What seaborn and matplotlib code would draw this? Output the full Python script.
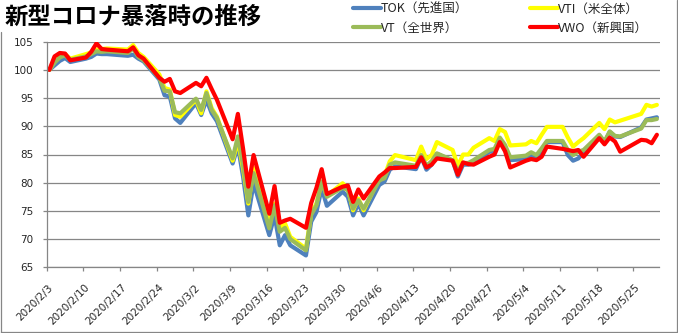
import matplotlib
matplotlib.use("Agg")
import matplotlib.pyplot as plt
import matplotlib.transforms as mtransforms
from matplotlib.lines import Line2D
import pandas as pd
import seaborn as sns

# Trading days (US market), Feb 3 - May 29, 2020
dates = [
    "2020-02-03", "2020-02-04", "2020-02-05", "2020-02-06", "2020-02-07",
    "2020-02-10", "2020-02-11", "2020-02-12", "2020-02-13", "2020-02-14",
    "2020-02-18", "2020-02-19", "2020-02-20", "2020-02-21",
    "2020-02-24", "2020-02-25", "2020-02-26", "2020-02-27", "2020-02-28",
    "2020-03-02", "2020-03-03", "2020-03-04", "2020-03-05", "2020-03-06",
    "2020-03-09", "2020-03-10", "2020-03-11", "2020-03-12", "2020-03-13",
    "2020-03-16", "2020-03-17", "2020-03-18", "2020-03-19", "2020-03-20",
    "2020-03-23", "2020-03-24", "2020-03-25", "2020-03-26", "2020-03-27",
    "2020-03-30", "2020-03-31", "2020-04-01", "2020-04-02", "2020-04-03",
    "2020-04-06", "2020-04-07", "2020-04-08", "2020-04-09",
    "2020-04-13", "2020-04-14", "2020-04-15", "2020-04-16", "2020-04-17",
    "2020-04-20", "2020-04-21", "2020-04-22", "2020-04-23", "2020-04-24",
    "2020-04-27", "2020-04-28", "2020-04-29", "2020-04-30", "2020-05-01",
    "2020-05-04", "2020-05-05", "2020-05-06", "2020-05-07", "2020-05-08",
    "2020-05-11", "2020-05-12", "2020-05-13", "2020-05-14", "2020-05-15",
    "2020-05-18", "2020-05-19", "2020-05-20", "2020-05-21", "2020-05-22",
    "2020-05-26", "2020-05-27", "2020-05-28", "2020-05-29",
]

# Index values (2020/2/3 = 100)
tok = [
    100.0, 100.8, 101.6, 102.1, 101.4,
    102.0, 102.3, 102.9, 102.8, 102.8,
    102.5, 102.7, 102.0, 101.5,
    98.3, 95.5, 95.3, 91.4, 90.6,
    94.1, 92.0, 94.7, 92.3, 90.9,
    83.4, 86.5, 81.0, 74.2, 79.9,
    70.7, 74.2, 68.9, 70.7, 68.9,
    67.1, 73.1, 74.8, 79.0, 75.9,
    78.4, 77.5, 74.2, 76.3, 74.2,
    79.6, 80.2, 82.3, 82.9,
    82.4, 84.6, 82.3, 83.2, 85.1,
    83.9, 81.1, 83.2, 83.2, 83.4,
    85.5, 85.5, 87.6, 86.1, 84.0,
    84.2, 84.8, 84.4, 85.8, 87.2,
    87.2, 84.9, 83.9, 84.3, 85.4,
    88.4, 87.2, 89.0, 88.2, 88.1,
    89.8, 91.2, 91.4, 91.6,
]
vti = [
    100.0, 101.5, 102.4, 102.8, 102.0,
    102.8, 103.1, 103.6, 103.7, 103.8,
    103.6, 104.4, 103.0, 102.3,
    99.2, 96.8, 96.5, 92.0, 91.7,
    94.7, 92.3, 96.2, 93.2, 91.7,
    83.9, 87.4, 82.5, 76.3, 82.6,
    73.1, 76.3, 71.9, 72.8, 70.4,
    68.3, 74.6, 76.3, 80.2, 77.7,
    79.9, 79.0, 75.1, 77.2, 75.1,
    80.8, 81.2, 83.8, 84.9,
    84.0, 86.4, 84.2, 84.9, 87.2,
    85.8, 83.0, 85.0, 85.0, 86.2,
    87.9, 87.4, 89.5, 89.0, 86.6,
    86.8, 87.4, 87.0, 88.5, 89.9,
    89.9, 88.0, 86.4, 87.2, 87.9,
    90.6, 89.5, 91.2, 90.7, 91.0,
    92.2, 93.8, 93.5, 93.8,
]
vt = [
    100.0, 101.3, 102.2, 102.6, 101.8,
    102.4, 102.8, 103.3, 103.2, 103.3,
    103.0, 103.8, 102.3, 101.7,
    98.6, 96.3, 96.2, 92.5, 92.3,
    94.9, 92.9, 95.9, 92.9, 91.5,
    84.3, 88.2, 83.0, 76.6, 81.7,
    71.9, 76.0, 71.3, 72.0, 70.0,
    68.0, 74.3, 76.0, 80.2, 77.5,
    79.1, 78.7, 75.4, 76.9, 75.4,
    80.4, 80.8, 83.2, 83.6,
    83.0, 84.9, 83.0, 83.8, 85.2,
    84.0, 82.0, 83.5, 83.5, 84.0,
    85.8, 86.0, 88.0, 86.7, 84.5,
    84.8, 85.4, 84.9, 86.1, 87.4,
    87.4, 85.8, 84.9, 85.5, 85.8,
    88.5, 87.3, 89.1, 88.3, 88.2,
    89.6, 91.1, 91.1, 91.3,
]
vwo = [
    100.0, 102.4, 103.0, 102.9, 101.7,
    102.2, 103.2, 104.7, 103.7, 103.6,
    103.3, 104.0, 102.6, 102.0,
    98.6, 97.9, 98.4, 96.2, 95.9,
    97.7, 97.1, 98.6, 96.6, 94.7,
    87.7, 92.2, 86.0, 79.3, 84.9,
    74.5, 79.4, 72.9, 73.3, 73.6,
    72.0, 76.4, 79.1, 82.4, 78.0,
    79.3, 79.5, 76.6, 78.8, 77.2,
    81.1, 81.8, 82.6, 82.6,
    82.8, 84.5, 82.7, 83.2, 84.3,
    83.9, 81.4, 83.6, 83.3, 83.2,
    84.6, 85.0, 87.2, 85.6, 82.7,
    83.9, 84.2, 84.0, 84.6, 86.4,
    86.0, 85.8, 85.6, 85.8, 84.6,
    87.9, 86.8, 88.0, 87.3, 85.5,
    87.6, 87.5, 87.0, 88.5,
]

series_names = ["TOK（先進国）", "VTI（米全体）", "VT（全世界）", "VWO（新興国）"]
series_colors = ["#4F81BD", "#FFFF00", "#9BBB59", "#FF0000"]
tick_dates = pd.date_range("2020-02-03", "2020-05-25", freq="7D")
y_ticks = [65, 70, 75, 80, 85, 90, 95, 100, 105]
title = "新型コロナ暴落時の推移"

sns.set_style("white")
plt.rcParams["font.family"] = ["Noto Sans CJK JP", "DejaVu Sans"]

# each day occupies one bin on the date axis; points sit at the bin centre
day_dates = pd.to_datetime(dates)
df = pd.DataFrame({
    "date": day_dates + pd.Timedelta(hours=12),
    series_names[0]: tok,
    series_names[1]: vti,
    series_names[2]: vt,
    series_names[3]: vwo,
})
long_df = df.melt(id_vars="date", var_name="fund", value_name="value")

W, H = 678, 333
fig = plt.figure(figsize=(W / 100, H / 100), dpi=100)
left, right, top, bottom = 46.7, 659.5, 41.7, 267.3
ax = fig.add_axes([left / W, 1 - bottom / H, (right - left) / W, (bottom - top) / H])

palette = dict(zip(series_names, series_colors))
sns.lineplot(data=long_df, x="date", y="value", hue="fund",
             hue_order=series_names, palette=palette, linewidth=3,
             estimator=None, legend=False, ax=ax)
for line in ax.lines:
    line.set_solid_joinstyle("round")
    line.set_solid_capstyle("round")

grid_c = "#868686"
ax.set_ylim(65, 105)
ax.set_yticks(y_ticks)
ax.yaxis.grid(True, color=grid_c, linewidth=0.9)
ax.xaxis.grid(False)
ax.set_axisbelow(True)
ax.set_xlim(pd.Timestamp("2020-02-03"), pd.Timestamp("2020-05-30"))
ax.set_xticks(tick_dates)
ax.set_xticklabels([f"{d.year}/{d.month}/{d.day}" for d in tick_dates])
ax.set_xlabel("")
ax.set_ylabel("")

for side in ("top", "right"):
    ax.spines[side].set_visible(False)
for side in ("left", "bottom"):
    ax.spines[side].set_color(grid_c)
    ax.spines[side].set_linewidth(0.9)

ax.tick_params(axis="y", which="major", length=3.2, width=0.9, color=grid_c,
               pad=6.5, labelsize=7.5, direction="out", left=True)
ax.tick_params(axis="x", which="major", length=3, width=0.9, color=grid_c,
               pad=4, labelsize=7.5, direction="out", bottom=True)
for lbl in ax.get_yticklabels():
    lbl.set_family("DejaVu Sans")
shift = mtransforms.ScaledTranslation(5 / 100, -9 / 100, fig.dpi_scale_trans)
for lbl in ax.get_xticklabels():
    lbl.set_family("DejaVu Sans")
    lbl.set_rotation(45)
    lbl.set_ha("right")
    lbl.set_va("center")
    lbl.set_rotation_mode("anchor")
    lbl.set_transform(lbl.get_transform() + shift)

# title
fig.text(5 / W, 1 - 17 / H, title, fontsize=16.8, fontweight="bold",
         ha="left", va="center", color="black")

# legend: two rows (TOK, VTI) / (VT, VWO); matplotlib fills columns first
order = [0, 2, 1, 3]
handles = [Line2D([], [], color=series_colors[i], linewidth=3) for i in order]
labels = [series_names[i] for i in order]
fig.legend(handles, labels, ncol=2, loc="upper left",
           bbox_to_anchor=(353 / W, 1 - 2.5 / H), frameon=False,
           fontsize=9, handlelength=2.25, handletextpad=0.0,
           columnspacing=4.9, labelspacing=0.5, borderpad=0,
           borderaxespad=0)

# chart-area border
bc = "#868686"
fig.add_artist(Line2D([1 / W, 1 / W], [0.5 / H, 1 - 31.5 / H], color=bc,
                      linewidth=0.9, transform=fig.transFigure))
fig.add_artist(Line2D([1 / W, 677 / W], [1.5 / H, 1.5 / H], color=bc,
                      linewidth=0.9, transform=fig.transFigure))
fig.add_artist(Line2D([677 / W, 677 / W], [1.5 / H, 1.0], color=bc,
                      linewidth=0.9, transform=fig.transFigure))

fig.savefig("out.png", dpi=100, facecolor="white")
